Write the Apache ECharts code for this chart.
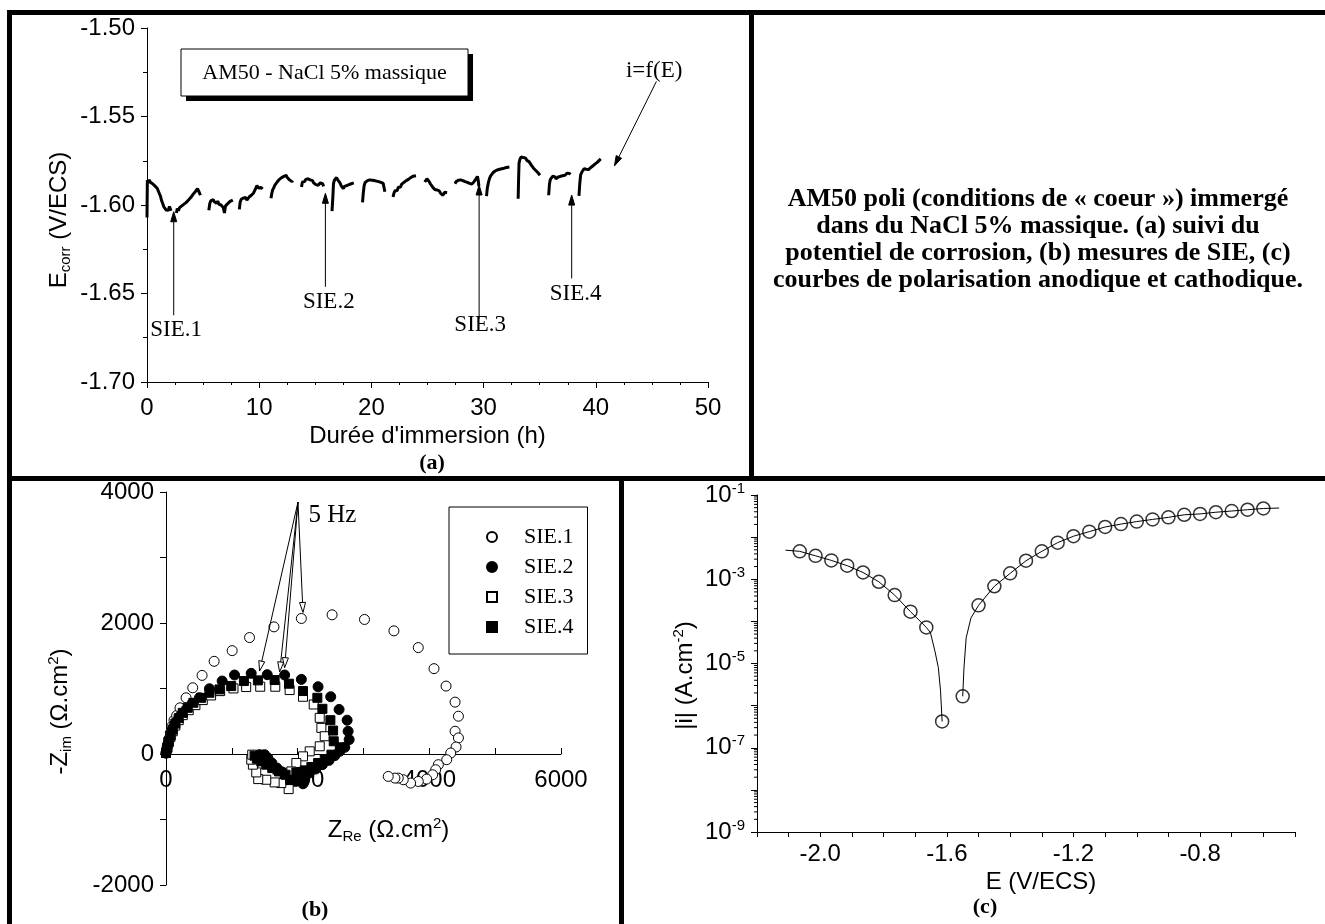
<!DOCTYPE html>
<html><head><meta charset="utf-8">
<script src="https://cdn.jsdelivr.net/npm/echarts@6/dist/echarts.min.js"></script>
<style>html,body{margin:0;padding:0;background:#fff}#c{width:1325px;height:924px}</style>
</head><body><div id="c"></div>
<script>
// ================= DATA =================
// (a) corrosion potential vs immersion time [h, V/ECS]; null = recording gap
const ecorrTrace = [
[0.00,-1.6070],[0.03,-1.5860],[0.10,-1.5875],[0.20,-1.5858],[0.30,-1.5872],[0.40,-1.5862],[0.50,-1.5880],[0.60,-1.5870],[0.70,-1.5892],[0.80,-1.5885],[0.90,-1.5905],[1.00,-1.5915],[1.10,-1.5935],[1.20,-1.5950],[1.30,-1.5975],[1.40,-1.5992],[1.50,-1.6010],[1.60,-1.6012],[1.70,-1.6028],[1.80,-1.6020],[1.90,-1.6030],[2.00,-1.6008],[2.10,-1.6025],[2.14,-1.6032],null,
[2.62,-1.6045],[2.70,-1.6020],[2.80,-1.6032],[2.90,-1.6015],[3.00,-1.6025],[3.10,-1.6005],[3.20,-1.6012],[3.30,-1.5995],[3.40,-1.6002],[3.50,-1.5985],[3.60,-1.5992],[3.70,-1.5972],[3.80,-1.5978],[3.90,-1.5958],[4.00,-1.5962],[4.10,-1.5940],[4.20,-1.5948],[4.30,-1.5925],[4.40,-1.5930],[4.50,-1.5908],[4.60,-1.5915],[4.70,-1.5935],[4.76,-1.5945],null,
[5.51,-1.6030],[5.60,-1.5990],[5.70,-1.5975],[5.80,-1.5985],[5.90,-1.5970],[6.00,-1.5982],[6.10,-1.5972],[6.20,-1.5990],[6.30,-1.5978],[6.40,-1.5995],[6.50,-1.5985],[6.60,-1.6000],[6.70,-1.5990],[6.80,-1.6015],[6.90,-1.6045],[7.00,-1.6005],[7.10,-1.6010],[7.20,-1.5992],[7.30,-1.5998],[7.40,-1.5980],[7.50,-1.5988],[7.65,-1.5972],null,
[8.23,-1.6025],[8.30,-1.5985],[8.40,-1.5968],[8.50,-1.5975],[8.60,-1.5960],[8.70,-1.5970],[8.80,-1.5958],[8.90,-1.5972],[9.00,-1.5962],[9.10,-1.5955],[9.20,-1.5958],[9.30,-1.5945],[9.40,-1.5950],[9.50,-1.5932],[9.60,-1.5922],[9.70,-1.5905],[9.80,-1.5890],[9.86,-1.5880],[9.95,-1.5905],[10.05,-1.5915],[10.15,-1.5900],[10.30,-1.5910],null,
[11.05,-1.5962],[11.12,-1.5935],[11.20,-1.5915],[11.30,-1.5902],[11.40,-1.5888],[11.50,-1.5880],[11.60,-1.5870],[11.70,-1.5868],[11.80,-1.5855],[11.90,-1.5858],[12.00,-1.5845],[12.10,-1.5848],[12.20,-1.5838],[12.30,-1.5842],[12.40,-1.5832],[12.50,-1.5845],[12.60,-1.5850],[12.70,-1.5858],[12.80,-1.5855],[12.92,-1.5868],[13.00,-1.5862],null,
[13.77,-1.5898],[13.85,-1.5870],[13.95,-1.5862],[14.05,-1.5868],[14.15,-1.5855],[14.25,-1.5860],[14.35,-1.5852],[14.45,-1.5862],[14.55,-1.5858],[14.65,-1.5868],[14.75,-1.5862],[14.85,-1.5875],[14.95,-1.5870],[15.05,-1.5885],[15.15,-1.5878],[15.25,-1.5888],[15.35,-1.5880],[15.45,-1.5875],[15.55,-1.5870],[15.65,-1.5880],[15.75,-1.5895],null,
[16.49,-1.6035],[16.56,-1.5960],[16.62,-1.5880],[16.70,-1.5860],[16.80,-1.5850],[16.90,-1.5845],[17.00,-1.5858],[17.10,-1.5862],[17.20,-1.5875],[17.30,-1.5890],[17.40,-1.5898],[17.50,-1.5908],[17.60,-1.5895],[17.70,-1.5902],[17.80,-1.5890],[17.90,-1.5898],[18.00,-1.5885],[18.10,-1.5892],[18.20,-1.5880],[18.30,-1.5888],[18.43,-1.5875],null,
[19.21,-1.5985],[19.28,-1.5930],[19.36,-1.5888],[19.45,-1.5872],[19.55,-1.5878],[19.65,-1.5862],[19.75,-1.5870],[19.85,-1.5858],[19.95,-1.5868],[20.05,-1.5860],[20.15,-1.5870],[20.25,-1.5862],[20.35,-1.5872],[20.45,-1.5865],[20.55,-1.5875],[20.65,-1.5868],[20.75,-1.5878],[20.85,-1.5872],[20.95,-1.5882],[21.05,-1.5878],[21.12,-1.5900],[21.20,-1.5925],null,
[21.93,-1.5955],[22.00,-1.5935],[22.10,-1.5920],[22.20,-1.5912],[22.30,-1.5918],[22.40,-1.5900],[22.50,-1.5895],[22.60,-1.5898],[22.70,-1.5882],[22.80,-1.5888],[22.90,-1.5872],[23.00,-1.5878],[23.10,-1.5862],[23.20,-1.5868],[23.30,-1.5855],[23.40,-1.5860],[23.50,-1.5845],[23.60,-1.5850],[23.70,-1.5838],[23.80,-1.5845],[23.97,-1.5835],null,
[24.75,-1.5870],[24.85,-1.5860],[24.95,-1.5852],[25.05,-1.5860],[25.15,-1.5868],[25.25,-1.5880],[25.35,-1.5888],[25.45,-1.5898],[25.55,-1.5905],[25.65,-1.5912],[25.75,-1.5920],[25.85,-1.5915],[25.95,-1.5925],[26.05,-1.5920],[26.15,-1.5932],[26.25,-1.5938],[26.35,-1.5945],[26.45,-1.5935],[26.55,-1.5928],[26.65,-1.5922],[26.75,-1.5930],null,
[27.45,-1.5880],[27.55,-1.5868],[27.65,-1.5872],[27.75,-1.5860],[27.85,-1.5865],[27.95,-1.5858],[28.05,-1.5868],[28.15,-1.5862],[28.25,-1.5872],[28.35,-1.5868],[28.45,-1.5878],[28.55,-1.5872],[28.65,-1.5882],[28.75,-1.5878],[28.85,-1.5888],[28.95,-1.5882],[29.05,-1.5875],[29.15,-1.5868],[29.25,-1.5860],[29.35,-1.5850],[29.45,-1.5838],[29.52,-1.5860],[29.58,-1.5895],null,
[30.26,-1.5950],[30.33,-1.5905],[30.43,-1.5872],[30.53,-1.5850],[30.63,-1.5835],[30.73,-1.5825],[30.83,-1.5818],[30.93,-1.5822],[31.03,-1.5808],[31.13,-1.5815],[31.23,-1.5802],[31.33,-1.5808],[31.43,-1.5798],[31.53,-1.5805],[31.63,-1.5795],[31.73,-1.5800],[31.83,-1.5792],[31.93,-1.5798],[32.03,-1.5788],[32.13,-1.5795],[32.30,-1.5785],null,
[33.08,-1.5965],[33.12,-1.5850],[33.16,-1.5762],[33.25,-1.5740],[33.35,-1.5728],[33.45,-1.5738],[33.55,-1.5732],[33.65,-1.5742],[33.75,-1.5735],[33.85,-1.5748],[33.95,-1.5742],[34.05,-1.5755],[34.15,-1.5762],[34.25,-1.5775],[34.35,-1.5782],[34.45,-1.5792],[34.55,-1.5798],[34.65,-1.5805],[34.75,-1.5812],[34.85,-1.5818],[34.95,-1.5825],[35.02,-1.5832],null,
[35.80,-1.5945],[35.87,-1.5880],[35.95,-1.5855],[36.05,-1.5845],[36.15,-1.5838],[36.25,-1.5845],[36.35,-1.5840],[36.45,-1.5852],[36.55,-1.5848],[36.65,-1.5842],[36.75,-1.5848],[36.85,-1.5838],[36.95,-1.5842],[37.05,-1.5835],[37.15,-1.5840],[37.25,-1.5832],[37.35,-1.5828],[37.45,-1.5820],[37.55,-1.5815],[37.65,-1.5822],[37.74,-1.5828],null,
[38.50,-1.5948],[38.57,-1.5880],[38.65,-1.5830],[38.75,-1.5815],[38.85,-1.5808],[38.95,-1.5795],[39.05,-1.5790],[39.15,-1.5798],[39.25,-1.5792],[39.35,-1.5800],[39.45,-1.5795],[39.55,-1.5788],[39.65,-1.5782],[39.75,-1.5778],[39.85,-1.5772],[39.95,-1.5768],[40.05,-1.5762],[40.15,-1.5758],[40.25,-1.5752],[40.35,-1.5745],[40.44,-1.5740]
];
// (a) annotations: arrows [tailT, tailE, tipT, tipE] and labels [t, E]
const arrowsA = [[2.38,-1.6623,2.38,-1.6038],[15.9,-1.6462,15.9,-1.5934],[29.6,-1.6642,29.6,-1.5887],[37.85,-1.6415,37.85,-1.5944],[45.4,-1.5302,41.66,-1.5779]];
const labelsA = ['SIE.1','SIE.2','SIE.3','SIE.4','i=f(E)'];
const labelPosA = [[2.6,-1.6708],[16.2,-1.6547],[29.7,-1.6679],[38.2,-1.6500],[45.2,-1.5245]];

// (b) Nyquist diagrams [Z_Re, -Z_im] (ohm.cm2)
const sie1 = [[0,15],[20,118],[41,220],[66,322],[91,424],[122,516],[162,588],[213,705],[305,858],[406,1011],[548,1200],[731,1415],[1005,1578],[1269,1778],[1640,1941],[2056,2069],[2523,2125],[3015,2054],[3462,1880],[3832,1625],[4071,1303],[4254,1037],[4391,792],[4442,577],[4391,347],[4442,245],[4406,107],[4325,15],[4264,-87],[4137,-163],[4096,-240],[4050,-317],[3959,-383],[3832,-419],[3716,-444],[3604,-393],[3528,-368],[3477,-368],[3376,-342]];
const sie2 = [[0,15],[15,92],[36,169],[61,261],[91,347],[127,434],[178,516],[228,593],[305,680],[396,771],[508,858],[660,996],[853,1114],[1041,1206],[1294,1231],[1538,1211],[1802,1206],[2056,1139],[2310,1027],[2502,874],[2629,680],[2751,516],[2766,347],[2782,220],[2716,102],[2640,41],[2563,-26],[2477,-97],[2376,-163],[2274,-230],[2173,-291],[2107,-383],[2081,-455],[1970,-419],[1868,-368],[1777,-281],[1685,-215],[1609,-138],[1548,-61],[1497,-10],[1421,-10],[1371,-61],[1345,-138]];
const sie3 = [[0,15],[20,92],[41,179],[66,261],[102,347],[142,434],[193,516],[254,593],[345,669],[447,746],[558,823],[685,894],[822,960],[1025,1001],[1218,1022],[1431,1027],[1660,1027],[1878,976],[2081,874],[2244,756],[2335,552],[2360,399],[2411,271],[2335,118],[2183,41],[2081,-36],[1980,-138],[1904,-266],[1863,-536],[1751,-444],[1650,-434],[1523,-393],[1401,-383],[1371,-281],[1320,-163],[1295,-87],[1310,-10]];
const sie4 = [[0,15],[20,102],[41,189],[71,281],[102,373],[142,465],[193,547],[254,628],[330,705],[416,782],[533,858],[660,935],[812,986],[990,1037],[1183,1114],[1396,1124],[1650,1129],[1868,1073],[2081,961],[2299,858],[2376,690],[2497,516],[2538,358],[2548,194],[2640,102],[2513,-10],[2411,-77],[2310,-138],[2208,-199],[2107,-250],[1980,-281],[1888,-393],[1817,-317],[1716,-266],[1614,-215],[1523,-163],[1447,-112],[1381,-72],[1345,-26]];
const sieNames = ['SIE.1','SIE.2','SIE.3','SIE.4'];
const arrowsB = [[2005,3847,1421,1267],[2005,3847,1726,1252],[2005,3847,1802,1318],[2005,3847,2081,2161]];
const labelsB = ['5 Hz'];
const labelPosB = [[2527,3635]];

// (c) polarisation curves: E (V/ECS), |i| (A.cm-2)
const cathodicLine = [[-2.110,4.9e-3],[-2.065,4.6e-3],[-2.015,3.6e-3],[-1.965,2.8e-3],[-1.915,2.1e-3],[-1.865,1.45e-3],[-1.815,8.7e-4],[-1.765,4.2e-4],[-1.715,1.7e-4],[-1.665,7.2e-5],[-1.652,5.4e-5],[-1.638,2.0e-5],[-1.627,8.0e-6],[-1.620,2.2e-6],[-1.615,4.2e-7]];
const cathodicMarkers = [[-2.065,4.6e-3],[-2.015,3.6e-3],[-1.965,2.8e-3],[-1.915,2.1e-3],[-1.865,1.45e-3],[-1.815,8.7e-4],[-1.765,4.2e-4],[-1.715,1.7e-4],[-1.665,7.2e-5],[-1.615,4.2e-7]];
const anodicLine = [[-1.550,1.66e-6],[-1.546,7.9e-6],[-1.539,4.1e-5],[-1.524,1.2e-4],[-1.500,2.4e-4],[-1.450,6.8e-4],[-1.400,1.38e-3],[-1.350,2.75e-3],[-1.300,4.6e-3],[-1.250,7.4e-3],[-1.200,1.05e-2],[-1.150,1.35e-2],[-1.100,1.74e-2],[-1.050,2.04e-2],[-1.000,2.34e-2],[-0.950,2.63e-2],[-0.900,2.95e-2],[-0.850,3.39e-2],[-0.800,3.55e-2],[-0.750,3.90e-2],[-0.700,4.17e-2],[-0.650,4.47e-2],[-0.600,4.79e-2],[-0.550,4.9e-2]];
const anodicMarkers = [[-1.550,1.66e-6],[-1.500,2.4e-4],[-1.450,6.8e-4],[-1.400,1.38e-3],[-1.350,2.75e-3],[-1.300,4.6e-3],[-1.250,7.4e-3],[-1.200,1.05e-2],[-1.150,1.35e-2],[-1.100,1.74e-2],[-1.050,2.04e-2],[-1.000,2.34e-2],[-0.950,2.63e-2],[-0.900,2.95e-2],[-0.850,3.39e-2],[-0.800,3.55e-2],[-0.750,3.90e-2],[-0.700,4.17e-2],[-0.650,4.47e-2],[-0.600,4.79e-2]];
const logDecades = [-9,-8,-7,-6,-5,-4,-3,-2];
const minorMultipliers = [2,3,4,5,6,7,8,9];

// texts
const captionLines = ['AM50 poli (conditions de « coeur ») immergé','dans du NaCl 5% massique. (a) suivi du','potentiel de corrosion, (b) mesures de SIE, (c)','courbes de polarisation anodique et cathodique.'];
const boxText = 'AM50 - NaCl 5% massique';

// ================= CHART =================
const SANS = '"Liberation Sans", Arial, sans-serif';
const SERIF = '"Liberation Serif", "Times New Roman", serif';
const chart = echarts.init(document.getElementById('c'), null, {renderer:'canvas', width:1325, height:924});

function splitSegments(trace){
  const segs=[]; let cur=[];
  trace.forEach(p=>{ if(p===null){ if(cur.length) segs.push(cur); cur=[]; } else cur.push(p); });
  if(cur.length) segs.push(cur);
  return segs;
}
function arrowRender(hollow, headLen, headHalf){
  return function(params, api){
    const a = api.coord([api.value(0), api.value(1)]);
    const b = api.coord([api.value(2), api.value(3)]);
    const dx=b[0]-a[0], dy=b[1]-a[1], L=Math.hypot(dx,dy)||1, ux=dx/L, uy=dy/L;
    const bx=b[0]-ux*headLen, by=b[1]-uy*headLen;
    return {type:'group', children:[
      {type:'line', shape:{x1:a[0],y1:a[1],x2:bx,y2:by}, style:{stroke:'#000',lineWidth:1}},
      {type:'polygon', shape:{points:[[b[0],b[1]],[bx-uy*headHalf,by+ux*headHalf],[bx+uy*headHalf,by-ux*headHalf]]},
       style:{fill:hollow?'#fff':'#000',stroke:'#000',lineWidth:1}}
    ]};
  };
}
function textRender(labels, size){
  return function(params, api){
    const p = api.coord([api.value(0), api.value(1)]);
    return {type:'text', x:p[0], y:p[1], style:{text:labels[params.dataIndex], fontSize:size, fontFamily:SERIF, fill:'#000', align:'center', verticalAlign:'middle'}};
  };
}
const minorTickData = [];
logDecades.forEach(d=>minorMultipliers.forEach(m=>minorTickData.push([-2.2, m*Math.pow(10,d)])));

const richAxis = {
  n:{fontSize:24, fontFamily:SANS, color:'#000', lineHeight:28},
  sub:{fontSize:15, fontFamily:SANS, color:'#000', lineHeight:15, verticalAlign:'bottom'},
  sup:{fontSize:15, fontFamily:SANS, color:'#000', lineHeight:15, verticalAlign:'top'}
};
const axisLineStyle = {show:true, lineStyle:{color:'#000', width:1}};
const labelStyle = {color:'#000', fontSize:24, fontFamily:SANS};
const plainNum = function(v){ return String(v); };

const series = [];
splitSegments(ecorrTrace).forEach(seg=>series.push({
  type:'line', xAxisIndex:0, yAxisIndex:0, data:seg, showSymbol:false, symbol:'none',
  lineStyle:{color:'#000', width:3}, silent:true
}));
series.push({type:'custom', xAxisIndex:0, yAxisIndex:0, data:arrowsA, encode:{x:[0,2],y:[1,3]}, renderItem:arrowRender(false,10,3), clip:false, silent:true, z:5});
series.push({type:'custom', xAxisIndex:0, yAxisIndex:0, data:labelPosA, encode:{x:0,y:1}, renderItem:textRender(labelsA,23), clip:false, silent:true, z:5});

const sieData = [sie1, sie2, sie3, sie4];
const sieSymbols = ['circle','circle','rect','rect'];
const sieFill = ['#fff','#000','#fff','#000'];
const sieSize = [10,10,9,9];
sieData.forEach((d,i)=>series.push({
  name:sieNames[i], type:'scatter', xAxisIndex:1, yAxisIndex:1, data:d, symbol:sieSymbols[i], symbolSize:sieSize[i],
  itemStyle:{color:sieFill[i], borderColor:'#000', borderWidth:1, opacity:1}, silent:true
}));
series.push({type:'custom', xAxisIndex:1, yAxisIndex:1, data:arrowsB, encode:{x:[0,2],y:[1,3]}, renderItem:arrowRender(true,10,3), clip:false, silent:true, z:5});
series.push({type:'custom', xAxisIndex:1, yAxisIndex:1, data:labelPosB, encode:{x:0,y:1}, renderItem:textRender(labelsB,25), clip:false, silent:true, z:5});

series.push({type:'line', xAxisIndex:2, yAxisIndex:2, data:cathodicLine, showSymbol:false, symbol:'none', lineStyle:{color:'#000',width:1}, silent:true});
series.push({type:'line', xAxisIndex:2, yAxisIndex:2, data:anodicLine, showSymbol:false, symbol:'none', lineStyle:{color:'#000',width:1}, silent:true});
series.push({type:'scatter', xAxisIndex:2, yAxisIndex:2, data:cathodicMarkers, symbol:'circle', symbolSize:13, itemStyle:{color:'#fff',borderColor:'#000',borderWidth:1.5}, silent:true});
series.push({type:'scatter', xAxisIndex:2, yAxisIndex:2, data:anodicMarkers, symbol:'circle', symbolSize:13, itemStyle:{color:'#fff',borderColor:'#000',borderWidth:1.5}, silent:true});
series.push({type:'custom', xAxisIndex:2, yAxisIndex:2, data:minorTickData, encode:{x:0,y:1}, clip:false, silent:true,
  renderItem:function(params, api){ const p=api.coord([api.value(0),api.value(1)]);
    return {type:'line', shape:{x1:p[0]-3,y1:p[1],x2:p[0],y2:p[1]}, style:{stroke:'#000',lineWidth:1}}; }});

const gridCommon = {containLabel:false, outerBoundsMode:'none'};
const option = {
  animation:false,
  backgroundColor:'#fff',
  grid:[
    Object.assign({left:147, top:28, width:561, height:354}, gridCommon),
    Object.assign({left:166, top:492, width:395, height:393}, gridCommon),
    Object.assign({left:757, top:495, width:538, height:337}, gridCommon)
  ],
  legend:{
    data:sieNames, left:449, top:507, orient:'vertical',
    backgroundColor:'#fff', borderColor:'#000', borderWidth:1, borderRadius:0,
    padding:[19,14,16,37], itemWidth:10, itemHeight:10, itemGap:8,
    textStyle:{fontFamily:SERIF, fontSize:22, color:'#000', lineHeight:21, padding:[0,0,0,22]},
    selectedMode:false
  },
  xAxis:[
    {gridIndex:0, type:'value', min:0, max:50, interval:10, axisLine:axisLineStyle,
     axisTick:{show:true, length:6, lineStyle:{color:'#000'}}, minorTick:{show:true, splitNumber:4, length:3, lineStyle:{color:'#000'}},
     splitLine:{show:false}, axisLabel:Object.assign({margin:14, formatter:plainNum}, labelStyle),
     name:"Durée d'immersion (h)", nameLocation:'middle', nameGap:42, nameTextStyle:{fontSize:24, fontFamily:SANS, color:'#000'}},
    {gridIndex:1, type:'value', min:0, max:6000, interval:2000, offset:-131, axisLine:Object.assign({onZero:false}, axisLineStyle),
     axisTick:{show:true, inside:true, length:6, lineStyle:{color:'#000'}}, minorTick:{show:true, splitNumber:2, length:6, lineStyle:{color:'#000'}},
     splitLine:{show:false}, axisLabel:Object.assign({margin:14, formatter:plainNum}, labelStyle),
     name:'{n|Z}{sub|Re}{n| (Ω.cm}{sup|2}{n|)}', nameLocation:'middle', nameGap:62, nameTextStyle:{rich:richAxis, padding:[0,0,0,50]}},
    {gridIndex:2, type:'value', min:-2.2, max:-0.5, interval:0.1, axisLine:axisLineStyle,
     axisTick:{show:true, length:5, lineStyle:{color:'#000'}}, splitLine:{show:false},
     axisLabel:Object.assign({margin:10, showMinLabel:true, showMaxLabel:true, interval:0,
       formatter:function(v){ const k=Math.round(v*10); return (k%4===0)? (k/10).toFixed(1) : ''; }}, labelStyle),
     name:'E (V/ECS)', nameLocation:'middle', nameGap:38, nameTextStyle:{fontSize:24, fontFamily:SANS, color:'#000', padding:[0,0,0,30]}}
  ],
  yAxis:[
    {gridIndex:0, type:'value', min:-1.70, max:-1.50, interval:0.05, axisLine:axisLineStyle,
     axisTick:{show:true, length:6, lineStyle:{color:'#000'}}, minorTick:{show:true, splitNumber:2, length:4, lineStyle:{color:'#000'}},
     splitLine:{show:false}, axisLabel:Object.assign({margin:12, formatter:function(v){return v.toFixed(2);}}, labelStyle),
     name:'{n|E}{sub|corr}{n| (V/ECS)}', nameLocation:'middle', nameGap:74, nameRotate:90, nameTextStyle:{rich:richAxis, padding:[0,30,0,0]}},
    {gridIndex:1, type:'value', min:-2000, max:4000, interval:2000, axisLine:Object.assign({onZero:false}, axisLineStyle),
     axisTick:{show:true, length:6, lineStyle:{color:'#000'}}, minorTick:{show:true, splitNumber:2, length:6, lineStyle:{color:'#000'}},
     splitLine:{show:false}, axisLabel:Object.assign({margin:12, formatter:plainNum}, labelStyle),
     name:'{n|-Z}{sub|im}{n| (Ω.cm}{sup|2}{n|)}', nameLocation:'middle', nameGap:92, nameRotate:90, nameTextStyle:{rich:richAxis, padding:[0,46,0,0]}},
    {gridIndex:2, type:'log', logBase:10, min:1e-9, max:1e-1, splitNumber:8, axisLine:axisLineStyle,
     axisTick:{show:true, length:6, lineStyle:{color:'#000'}}, splitLine:{show:false},
     axisLabel:{margin:12, color:'#000', formatter:function(v){ const e=Math.round(Math.log10(v)); return Math.abs(e)%2===1 ? '{b|10}{s|'+e+'}' : ''; },
       rich:{b:{fontSize:24, fontFamily:SANS, color:'#000', lineHeight:28}, s:{fontSize:15, fontFamily:SANS, color:'#000', lineHeight:15, verticalAlign:'top'}}},
     name:'{n||i| (A.cm}{sup|-2}{n|)}', nameLocation:'middle', nameGap:58, nameRotate:90, nameTextStyle:{rich:richAxis, padding:[0,24,0,0]}}
  ],
  series:series,
  graphic:[
    {type:'rect', shape:{x:7,y:10,width:5,height:914}, style:{fill:'#000'}, z:100},
    {type:'rect', shape:{x:7,y:10,width:1318,height:5}, style:{fill:'#000'}, z:100},
    {type:'rect', shape:{x:7,y:476,width:1318,height:5}, style:{fill:'#000'}, z:100},
    {type:'rect', shape:{x:749,y:10,width:5,height:468}, style:{fill:'#000'}, z:100},
    {type:'rect', shape:{x:619,y:478,width:5,height:446}, style:{fill:'#000'}, z:100},
    {type:'rect', shape:{x:186,y:54,width:287,height:47}, style:{fill:'#000'}, z:50},
    {type:'rect', shape:{x:181,y:49,width:287,height:47}, style:{fill:'#fff',stroke:'#000',lineWidth:1}, z:51},
    {type:'text', x:324.5, y:73, style:{text:boxText, fontSize:22, fontFamily:SERIF, fill:'#000', align:'center', verticalAlign:'middle'}, z:52},
    {type:'text', x:1038, y:240, style:{text:captionLines.join('\n'), fontSize:26, fontWeight:'bold', fontFamily:SERIF, fill:'#000', align:'center', verticalAlign:'middle', lineHeight:27}, z:52},
    {type:'text', x:432, y:463, style:{text:'(a)', fontSize:22, fontWeight:'bold', fontFamily:SERIF, fill:'#000', align:'center', verticalAlign:'middle'}, z:52},
    {type:'text', x:315, y:910, style:{text:'(b)', fontSize:22, fontWeight:'bold', fontFamily:SERIF, fill:'#000', align:'center', verticalAlign:'middle'}, z:52},
    {type:'text', x:985, y:907, style:{text:'(c)', fontSize:22, fontWeight:'bold', fontFamily:SERIF, fill:'#000', align:'center', verticalAlign:'middle'}, z:52}
  ]
};
chart.setOption(option);
</script>
</body></html>
